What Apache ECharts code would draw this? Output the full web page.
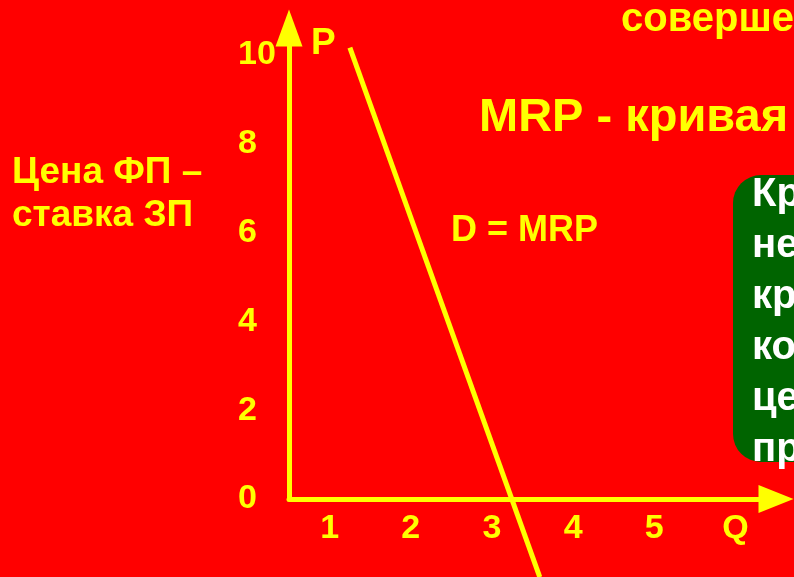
<!DOCTYPE html>
<html>
<head>
<meta charset="utf-8">
<title>MRP</title>
<script src="https://cdn.jsdelivr.net/npm/echarts@6/dist/echarts.min.js"></script>
<style>
	html, body {
	margin: 0;
	padding: 0;
	background: #ff0000;
	}
	#dataDiv1 {
	width: 794px;
	height: 577px;
	}
</style>
</head>
<body>
<div id="dataDiv1"></div>
<script>
// подписи осей
var qLabels = ['1', '2', '3', '4', '5', 'Q'];
var pMin = 0;
var pMax = 10.6;
var pStep = 2;
// кривая D = MRP (Q, P)
var mrpQ = [0.75, 3.09];
var mrpP = [10.16, -1.76];
// текст в зелёной плашке
var boxLines = ['Кр', 'не', 'кр', 'ко', 'це', 'пр'];

var yellow = '#ffff00';
var fontFam = '"Liberation Sans", Arial, sans-serif';

var mrpData = [];
for (var i = 0; i < mrpQ.length; i++) {
	mrpData.push([mrpQ[i], mrpP[i]]);
}

var myChart1 = echarts.init(document.getElementById('dataDiv1'));
var option1 = {
	backgroundColor: '#ff0000',
	animation: false,
	grid: {
		left: 289,
		right: 18,
		top: 28,
		bottom: 78
	},
	xAxis: [
	{
		type: 'value',
		position: 'bottom',
		min: 0,
		max: qLabels.length,
		interval: 1,
		axisLine: {
			onZero: false,
			symbol: ['none', 'triangle'],
			symbolSize: [28, 35],
			lineStyle: { color: yellow, width: 5 }
		},
		axisTick: { show: false },
		axisLabel: { show: false },
		splitLine: { show: false }
	},
	{
		type: 'category',
		position: 'bottom',
		data: qLabels,
		boundaryGap: true,
		axisLine: { show: false, onZero: false },
		axisTick: { show: false },
		axisLabel: {
			margin: 13,
			color: yellow,
			fontSize: 34,
			fontWeight: 'bold',
			fontFamily: fontFam
		},
		splitLine: { show: false }
	}
	],
	yAxis: {
		type: 'value',
		min: pMin,
		max: pMax,
		interval: pStep,
		axisLine: {
			onZero: false,
			symbol: ['none', 'triangle'],
			symbolSize: [27, 37],
			lineStyle: { color: yellow, width: 5 }
		},
		axisTick: { show: false },
		splitLine: { show: false },
		axisLabel: {
			showMaxLabel: false,
			align: 'left',
			margin: 51,
			color: yellow,
			fontSize: 34,
			fontWeight: 'bold',
			fontFamily: fontFam
		}
	},
	series: [
	{
		name: 'D = MRP',
		type: 'line',
		xAxisIndex: 0,
		data: mrpData,
		clip: false,
		symbol: 'none',
		z: 5,
		lineStyle: { color: yellow, width: 5 }
	}
	],
	graphic: [
	{
		type: 'text',
		left: 12,
		top: 151,
		style: {
			text: 'Цена ФП –\nставка ЗП',
			fill: yellow,
			font: 'bold 37px ' + fontFam,
			lineHeight: 43
		}
	},
	{
		type: 'text',
		left: 311,
		top: 25,
		style: {
			text: 'P',
			fill: yellow,
			font: 'bold 37px ' + fontFam
		}
	},
	{
		type: 'text',
		left: 451,
		top: 213,
		style: {
			text: 'D = MRP',
			fill: yellow,
			font: 'bold 36px ' + fontFam
		}
	},
	{
		type: 'text',
		left: 621,
		top: 0,
		style: {
			text: 'соверше',
			fill: yellow,
			font: 'bold 40px ' + fontFam
		}
	},
	{
		type: 'text',
		left: 479,
		top: 95,
		style: {
			text: 'MRP - кривая',
			fill: yellow,
			font: 'bold 47px ' + fontFam
		}
	},
	{
		type: 'rect',
		shape: { x: 733, y: 175, width: 120, height: 287, r: 28 },
		style: { fill: '#006400' }
	},
	{
		type: 'text',
		left: 752,
		top: 169,
		style: {
			text: boxLines.join('\n'),
			fill: '#ffffff',
			font: 'bold 40px ' + fontFam,
			lineHeight: 51
		}
	}
	]
};
myChart1.setOption(option1);
window.addEventListener('resize', function () {
	myChart1.resize();
});
</script>
</body>
</html>
